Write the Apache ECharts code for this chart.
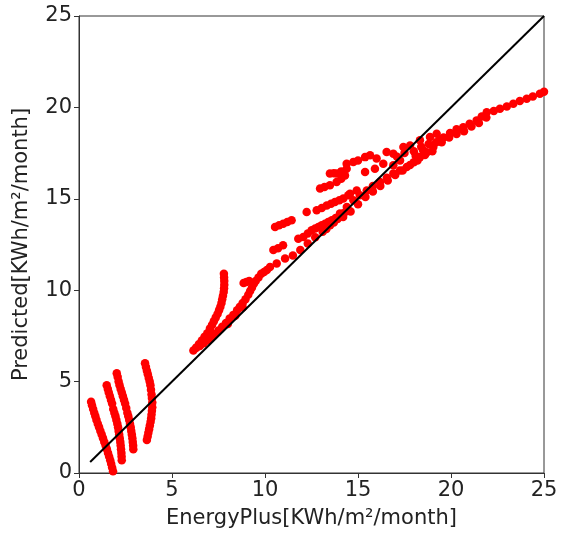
<!DOCTYPE html>
<html>
<head>
<meta charset="utf-8">
<script src="https://cdn.jsdelivr.net/npm/echarts@6/dist/echarts.min.js"></script>
<style>html,body{margin:0;padding:0;background:#fff}#c{width:565px;height:537px}</style>
</head>
<body>
<div id="c"></div>
<script>
// Tick values
const xTicks = [0, 5, 10, 15, 20, 25];
const yTicks = [0, 5, 10, 15, 20, 25];
const xTitle = 'EnergyPlus[KWh/m²/month]';
const yTitle = 'Predicted[KWh/m²/month]';

// Reference diagonal
const diagonal = [[0.6, 0.6], [25, 25]];

// Scatter points (EnergyPlus, Predicted), read strand by strand
const strandA = [[0.65,3.9],[0.7,3.7],[0.76,3.5],[0.82,3.3],[0.88,3.1],[0.94,2.9],[1.01,2.7],[1.08,2.5],[1.15,2.3],[1.22,2.1],[1.29,1.9],[1.36,1.7],[1.43,1.5],[1.5,1.3],[1.56,1.1],[1.62,0.9],[1.68,0.7],[1.73,0.5],[1.78,0.3],[1.83,0.1]];
const strandB = [[1.49,4.8],[1.55,4.6],[1.6,4.4],[1.66,4.2],[1.72,4.0],[1.78,3.8],[1.84,3.5],[1.9,3.3],[1.96,3.1],[2.01,2.9],[2.06,2.7],[2.1,2.5],[2.13,2.3],[2.16,2.1],[2.19,1.9],[2.22,1.7],[2.24,1.5],[2.26,1.3],[2.28,1.1],[2.29,0.9],[2.3,0.7]];
const strandC = [[2.03,5.45],[2.08,5.25],[2.13,5.0],[2.18,4.8],[2.24,4.6],[2.3,4.4],[2.36,4.2],[2.42,4.0],[2.48,3.8],[2.54,3.55],[2.6,3.3],[2.65,3.1],[2.7,2.9],[2.74,2.7],[2.78,2.5],[2.81,2.3],[2.84,2.1],[2.87,1.9],[2.89,1.7],[2.91,1.5],[2.92,1.3]];
const strandD = [[3.55,6.0],[3.6,5.8],[3.65,5.6],[3.7,5.4],[3.75,5.2],[3.8,5.0],[3.84,4.8],[3.87,4.55],[3.9,4.3],[3.92,4.1],[3.94,3.85],[3.94,3.6],[3.92,3.4],[3.9,3.2],[3.88,3.0],[3.85,2.8],[3.81,2.6],[3.77,2.4],[3.73,2.2],[3.69,2.0],[3.65,1.8]];
const strandE = [[6.15,6.7],[6.3,6.85],[6.45,7.05],[6.6,7.25],[6.75,7.45],[6.9,7.65],[7.04,7.9],[7.15,8.1],[7.25,8.3],[7.35,8.5],[7.45,8.7],[7.53,8.9],[7.6,9.1],[7.66,9.3],[7.7,9.5],[7.74,9.7],[7.78,9.9],[7.8,10.1],[7.81,10.3],[7.81,10.5],[7.8,10.7],[7.79,10.9]];
const strandF = [[6.3,6.85],[6.5,6.95],[6.7,7.1],[6.9,7.25],[7.1,7.4],[7.3,7.6],[7.5,7.8],[7.7,8.0],[7.9,8.2],[8.1,8.45],[8.3,8.65],[8.5,8.9],[8.65,9.1],[8.8,9.3],[8.95,9.5],[9.1,9.75],[9.2,9.95],[9.3,10.15],[9.4,10.35],[9.5,10.5],[9.65,10.7],[9.8,10.9],[9.95,11.0],[10.1,11.1],[8.85,10.4],[9.0,10.45],[9.15,10.5],[8.0,8.15],[8.4,8.6],[8.8,9.05]];
const rowLine = [[10.27,11.27],[10.63,11.46],[11.08,11.73],[11.5,11.9],[11.9,12.2],[12.3,12.55],[12.7,12.9],[13.1,13.2],[13.3,13.35],[13.5,13.55],[13.7,13.7],[13.9,13.9]];
const row3 = [[10.45,12.2],[10.7,12.3],[10.97,12.46],[11.79,12.82],[12.06,12.91],[12.3,13.1],[12.51,13.28],[12.7,13.37],[12.87,13.46],[13.05,13.55],[13.23,13.64],[13.4,13.73],[13.59,13.83],[13.8,13.95],[14.03,14.1],[14.25,14.23],[14.48,14.37]];
const row2 = [[10.54,13.46],[10.76,13.55],[10.98,13.64],[11.2,13.73],[11.43,13.83],[12.24,14.28],[12.78,14.37],[13.05,14.5],[13.32,14.64],[13.55,14.73],[13.76,14.83],[14.0,14.92],[14.21,15.01],[14.48,15.19],[14.57,15.28],[14.93,15.46]];
const row1 = [[12.96,15.56],[13.2,15.65],[13.49,15.74],[13.85,15.92],[14.1,16.1],[14.3,16.28],[13.49,16.38],[13.7,16.4],[13.85,16.38],[14.1,16.5],[14.39,16.65],[14.39,16.92],[14.75,17.01],[15.0,17.1],[15.38,17.28],[15.65,17.38],[16.0,17.2],[16.54,17.56],[16.9,17.47],[17.44,17.83],[17.8,17.92],[18.33,18.2],[18.87,18.38],[19.23,18.56],[15.38,16.46],[15.91,16.65],[16.36,16.92],[16.9,16.83],[17.26,17.1]];
const bandMid = [[14.03,14.19],[14.4,14.55],[14.75,14.92],[15.1,15.2],[15.47,15.46],[15.8,15.7],[16.18,15.92],[16.55,16.15],[16.9,16.38],[17.25,16.55],[17.62,16.74],[18.0,17.0],[18.33,17.28],[18.7,17.55],[19.05,17.83],[19.4,18.2],[14.2,14.0],[14.6,14.3],[15.0,14.7],[15.4,15.1],[15.8,15.4],[16.2,15.7],[16.6,16.0],[17.0,16.3],[17.4,16.55],[17.8,16.85],[18.2,17.1],[18.6,17.4],[19.0,17.6],[17.1,17.3],[17.5,17.5],[18.0,17.6],[18.4,17.85],[18.8,18.0],[19.2,18.1],[18.1,17.35],[18.5,17.65]];
const bandHigh = [[19.6,18.35],[19.95,18.6],[20.3,18.8],[20.66,18.92],[21.0,19.1],[21.38,19.29],[21.65,19.5],[21.92,19.74],[22.3,19.8],[22.63,19.93],[23.0,20.05],[23.35,20.2],[23.7,20.35],[24.07,20.47],[24.4,20.6],[24.78,20.75],[25.0,20.85],[19.5,18.1],[19.9,18.35],[20.3,18.55],[20.7,18.7],[21.1,18.95],[21.5,19.15],[21.9,19.45]];

const points = [].concat(strandA, strandB, strandC, strandD, strandE, strandF, rowLine, row3, row2, row1, bandMid, bandHigh);

const chart = echarts.init(document.getElementById('c'), null, {renderer: 'canvas'});
const font = 'DejaVu Sans';
const axisCommon = {
  type: 'value', min: 0, max: 25, interval: 5,
  axisLine: {show: true, lineStyle: {color: '#333', width: 1}},
  axisTick: {show: true, inside: false, length: 5, lineStyle: {color: '#333'}},
  splitLine: {show: false},
  axisLabel: {color: '#222', fontSize: 21, fontFamily: font, margin: 7},
  nameLocation: 'middle',
  nameTextStyle: {color: '#222', fontSize: 21, fontFamily: font}
};
chart.setOption({
  animation: false,
  backgroundColor: '#fff',
  grid: {left: 79, right: 21, top: 16, bottom: 64, show: true, borderColor: '#333', borderWidth: 1, containLabel: false},
  xAxis: Object.assign({}, axisCommon, {name: xTitle, nameGap: 35,
    axisLabel: Object.assign({}, axisCommon.axisLabel, {formatter: v => xTicks.includes(v) ? String(v) : ''})}),
  yAxis: Object.assign({}, axisCommon, {name: yTitle, nameGap: 47,
    axisLabel: Object.assign({}, axisCommon.axisLabel, {formatter: v => yTicks.includes(v) ? String(v) : ''})}),
  series: [
    {type: 'scatter', data: points, symbol: 'circle', symbolSize: 8.5, itemStyle: {color: '#ff0000', opacity: 1}, z: 2},
    {type: 'line', data: diagonal, showSymbol: false, symbol: 'none', lineStyle: {color: '#000', width: 2}, z: 3}
  ]
});
</script>
</body>
</html>
